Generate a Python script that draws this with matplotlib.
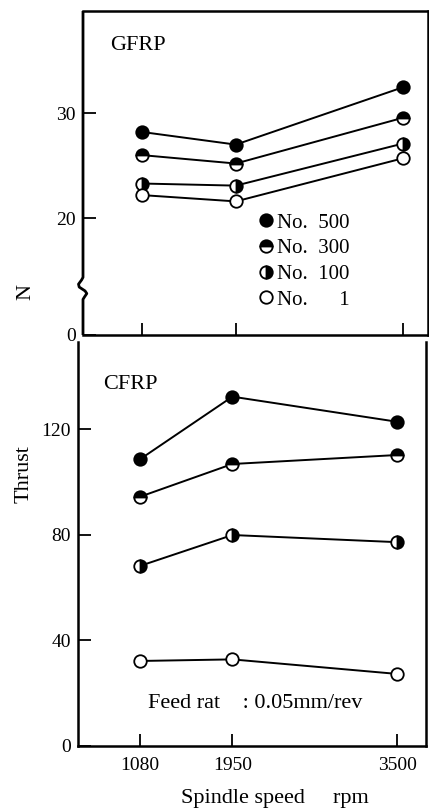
import matplotlib
matplotlib.use("Agg")
import matplotlib.pyplot as plt
from matplotlib.lines import Line2D

plt.rcParams["font.family"] = ["Liberation Serif", "DejaVu Serif"]

# spindle speeds (rpm)
speeds = [1080, 1950, 3500]

# thrust for GFRP (N), per drill number
gfrp_no500 = [28.2, 27.0, 32.45]
gfrp_no300 = [26.0, 25.2, 29.55]
gfrp_no100 = [23.3, 23.1, 27.1]
gfrp_no1 = [22.2, 21.6, 25.7]

# thrust for CFRP (N)
cfrp_no500 = [108.6, 132.3, 122.8]
cfrp_no300 = [94.4, 106.8, 110.2]
cfrp_no100 = [68.2, 79.9, 77.2]
cfrp_no1 = [32.2, 32.8, 27.3]

labels = ["No.  500", "No.  300", "No.  100", "No.      1"]
fills = ["full", "top", "right", "none"]

W, H = 429, 811
fig = plt.figure(figsize=(W / 100, H / 100), dpi=100)
ax1 = fig.add_axes([83 / W, 1 - 335 / H, 345 / W, 324 / H])
ax2 = fig.add_axes([78 / W, 1 - 746 / H, 348 / W, 404 / H])


def marker_style(fill):
    if fill == "none":
        return dict(fillstyle="full", markerfacecolor="white")
    return dict(fillstyle=fill, markerfacecolor="black", markerfacecoloralt="white")


def draw_series(ax, series):
    for ys, fill in zip(series, fills):
        ax.plot(speeds, ys, color="black", lw=1.4, marker="o", ms=9,
                mec="black", mew=1.3, **marker_style(fill))


draw_series(ax1, [gfrp_no500, gfrp_no300, gfrp_no100, gfrp_no1])
draw_series(ax2, [cfrp_no500, cfrp_no300, cfrp_no100, cfrp_no1])

for ax in (ax1, ax2):
    ax.set_xticks(speeds)
    ax.tick_params(direction="in", length=9, width=1.3, labelsize=14,
                   pad=5, color="black")
    ax.tick_params(axis="x", pad=8)
    for s in ax.spines.values():
        s.set_linewidth(1.8)

# GFRP panel (broken axis)
ax1.set_xlim(533, 3732)
ax1.set_ylim(8.9, 39.7)
ax1.set_yticks([8.9, 20, 30])
ax1.set_yticklabels(["0", "20", "30"])
ax1.tick_params(axis="x", labelbottom=False)
ax1.spines["left"].set_visible(False)
brk_x = [0, 0, -0.004, -0.013, -0.011, 0.006, 0.011, 0.004, 0, 0]
brk_y = [1, 0.178, 0.17, 0.157, 0.148, 0.136, 0.128, 0.117, 0.11, 0]
ax1.add_line(Line2D(brk_x, brk_y, transform=ax1.transAxes, color="black",
                    lw=2.0, clip_on=False, solid_capstyle="butt"))
ax1.text(0.078, 0.892, "GFRP", transform=ax1.transAxes, fontsize=16,
         va="center", ha="left")

handles = [Line2D([], [], ls="none", marker="o", ms=9, color="black",
                  mec="black", mew=1.3, **marker_style(f)) for f in fills]
ax1.legend(handles, labels, loc="upper left", bbox_to_anchor=(0.51, 0.376),
           frameon=False, fontsize=15, handlelength=0.7, handletextpad=0.15,
           labelspacing=0.29, borderpad=0, borderaxespad=0)

# CFRP panel
ax2.set_xlim(496, 3773)
ax2.set_ylim(0, 153)
ax2.set_yticks([0, 40, 80, 120])
ax2.spines["top"].set_visible(False)
ax2.text(0.072, 0.896, "CFRP", transform=ax2.transAxes, fontsize=16,
         va="center", ha="left")
ax2.text(0.2, 0.104, "Feed rat    : 0.05mm/rev", transform=ax2.transAxes,
         fontsize=16, va="center", ha="left")

fig.text(26 / W, 1 - 292 / H, "N", rotation=90, fontsize=16,
         ha="center", va="center")
fig.text(24 / W, 1 - 474 / H, "Thrust", rotation=90, fontsize=16,
         ha="center", va="center")
fig.text(275 / W, 1 - 798 / H, "Spindle speed     rpm", fontsize=16,
         ha="center", va="center")

fig.savefig("out.png", dpi=100)
